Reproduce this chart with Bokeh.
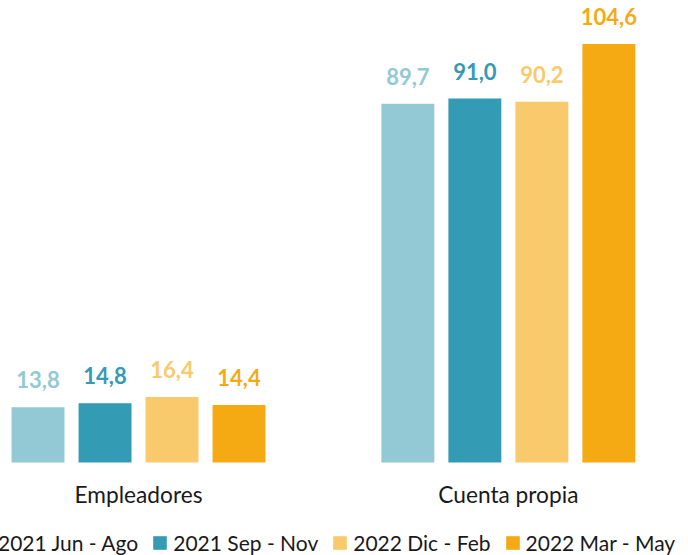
from bokeh.plotting import figure
from bokeh.models import Range1d, ColumnDataSource, LabelSet, Legend, LegendItem
from bokeh.core.properties import value
from bokeh.embed import file_html
from bokeh.resources import INLINE

# ---- data ----
groups = ["Empleadores", "Cuenta propia"]
series = ["2021 Jun - Ago", "2021 Sep - Nov", "2022 Dic - Feb", "2022 Mar - May"]
colors = ["#92C9D5", "#349BB4", "#F9CA6B", "#F5AA14"]
empleadores = [13.8, 14.8, 16.4, 14.4]
cuenta_propia = [89.7, 91.0, 90.2, 104.6]

values_by_group = {"Empleadores": empleadores, "Cuenta propia": cuenta_propia}

# categorical layout: one unit per bar, extra padding between groups
GROUP_PAD = 1.52
n = len(series)

xs, tops, cols, labels = [], [], [], []
group_x = []
for gi, g in enumerate(groups):
    base = gi * (n + GROUP_PAD)
    group_x.append(base + n / 2)
    for si, s in enumerate(series):
        v = values_by_group[g][si]
        xs.append(base + si + 0.5)
        tops.append(v)
        cols.append(colors[si])
        labels.append(f"{v:.1f}".replace(".", ","))

src = ColumnDataSource(dict(x=xs, top=tops, color=cols, label=labels))

FONT = "Lato"
W, H = 688, 555

p = figure(
    width=W, height=H,
    x_range=Range1d(-0.06, -0.06 + W / 67.0),
    y_range=Range1d(-93 / 4.0, (H - 93) / 4.0),
    output_backend="svg", toolbar_location=None,
    min_border=0,
)
p.outline_line_color = None
p.background_fill_color = "white"
p.border_fill_color = "white"
p.xgrid.visible = False
p.ygrid.visible = False
p.xaxis.visible = False
p.yaxis.visible = False

r = p.vbar(x="x", top="top", width=0.79, source=src, fill_color="color",
           line_color=None)

lbl = LabelSet(x="x", y="top", text="label", source=src, y_offset=19,
               text_align="center", text_baseline="alphabetic",
               text_color="color", text_font=value(FONT),
               text_font_style="bold", text_font_size="22px")
p.add_layout(lbl)

# category labels under each group
p.text(x=group_x, y=[0] * len(groups), text=groups, y_offset=32,
       text_align="center", text_baseline="alphabetic",
       text_font=value(FONT), text_font_size=value("22.7px"),
       text_color="#1a1a1a")

items = [LegendItem(label=s, renderers=[r], index=i) for i, s in enumerate(series)]
legend = Legend(items=items, orientation="horizontal", location=(-24, 0),
                glyph_width=17, glyph_height=17, label_standoff=5, spacing=13,
                padding=0, margin=0, border_line_color=None,
                background_fill_alpha=0, label_text_font=FONT,
                label_text_font_size="21px", label_text_color="#1a1a1a")
p.add_layout(legend, "center")

open("out.html", "w").write(file_html(p, INLINE))
